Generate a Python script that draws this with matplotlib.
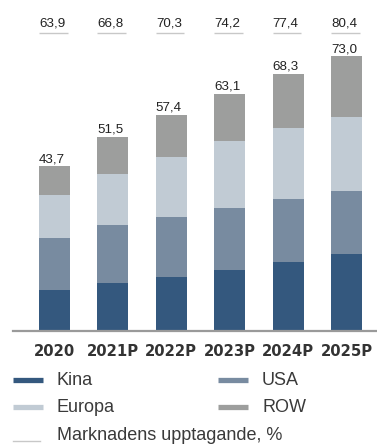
import matplotlib
matplotlib.use("Agg")
import matplotlib.pyplot as plt
from matplotlib.lines import Line2D
import numpy as np

# --- Data (TWh / %) ---
years = ["2020", "2021P", "2022P", "2023P", "2024P", "2025P"]
kina = [10.8, 12.7, 14.3, 16.1, 18.3, 20.4]
usa = [13.9, 15.4, 15.9, 16.5, 16.7, 16.8]
europa = [11.4, 13.6, 16.0, 17.9, 18.9, 19.6]
row = [7.6, 9.8, 11.2, 12.6, 14.4, 16.2]
uptake = [63.9, 66.8, 70.3, 74.2, 77.4, 80.4]

series = [("Kina", kina, "#34587e"),
          ("USA", usa, "#788ba0"),
          ("Europa", europa, "#c1cbd4"),
          ("ROW", row, "#9d9e9d")]

W, H = 377, 445
TXT = "#222222"
GRID = "#c8c8c8"


def fx(px):
    return px / W


def fy(py):
    return 1 - py / H


fig = plt.figure(figsize=(W / 100, H / 100), dpi=100)
ax = fig.add_axes([fx(13), fy(330.7), fx(364), 330.7 / H])

x = np.arange(len(years))
width = 0.53
bottom = np.zeros(len(years))
for name, vals, color in series:
    ax.bar(x, vals, width=width, bottom=bottom, color=color, linewidth=0)
    bottom += np.array(vals)

# Totals above each stack
for xi, top in zip(x, bottom):
    ax.annotate(f"{top:.1f}".replace(".", ","), (xi - width / 2, top),
                xytext=(0, 3), textcoords="offset points",
                ha="left", va="baseline", fontsize=9.6,
                family="Liberation Sans", color=TXT)

# Market uptake row along the top
for xi, val in zip(x, uptake):
    ax.hlines(79.2, xi - width / 2, xi + width / 2 - 0.04, color=GRID, lw=1)
    ax.text(xi - width / 2, 80.9, f"{val:.1f}".replace(".", ","),
            ha="left", va="baseline", fontsize=9.6,
            family="Liberation Sans", color=TXT)

ax.set_xlim(-0.71, 5.52)
ax.set_ylim(0, 88)
for s in ["top", "right", "left"]:
    ax.spines[s].set_visible(False)
ax.spines["bottom"].set_color("#9a9a9a")
ax.spines["bottom"].set_linewidth(1.6)
ax.set_yticks([])
ax.set_xticks(x, years)
ax.tick_params(axis="x", length=0, pad=9.5)
for lbl in ax.get_xticklabels():
    lbl.set_fontweight("bold")
    lbl.set_fontsize(10.7)
    lbl.set_family("DejaVu Sans")
    lbl.set_color("#333333")

# Legend laid out in two columns plus the uptake line underneath
legend_pos = [(13, 379.5, 385), (218, 379.5, 385), (13, 407, 411.7), (218, 407, 411.7)]
for (name, vals, color), (lx, ly, base) in zip(series, legend_pos):
    fig.add_artist(Line2D([fx(lx), fx(lx + 30)], [fy(ly), fy(ly)],
                          transform=fig.transFigure, color=color, lw=3.8,
                          solid_capstyle="butt"))
    fig.text(fx(lx + 44), fy(base), name, ha="left", va="baseline",
             fontsize=13, family="Liberation Sans", color="#3a3a3a")

fig.add_artist(Line2D([fx(13), fx(40)], [fy(441), fy(441)],
                      transform=fig.transFigure, color=GRID, lw=1))
fig.text(fx(57), fy(440.5), "Marknadens upptagande, %", ha="left", va="baseline",
         fontsize=13, family="Liberation Sans", color="#3a3a3a")

fig.savefig("out.png", dpi=100)
